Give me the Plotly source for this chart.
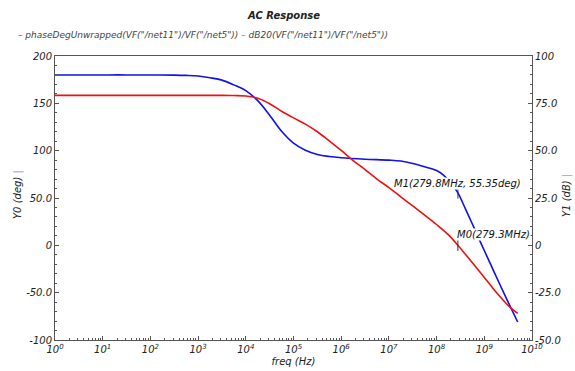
import numpy as np
import plotly.graph_objects as go

# ---- data (frequencies as log10(Hz)) ----
logf_phase = [0, 0.5, 1, 1.5, 2, 2.5, 2.75, 3.0, 3.25, 3.5, 3.75, 4.0, 4.25, 4.5, 4.75,
              5.0, 5.25, 5.5, 5.75, 6.0, 6.5, 7.0, 7.25, 7.5, 7.75, 8.0, 8.15, 8.3,
              8.447, 8.6, 8.75, 8.9, 9.0, 9.15, 9.3, 9.5, 9.7]
phase_deg = [180, 180, 180, 180, 179.9, 179.8, 179.5, 178.8, 177, 174.5, 169.5, 163.5,
             152.8, 137.5, 120.5, 108, 100.5, 96, 93.8, 92.5, 91, 90, 89, 86.5, 83, 79, 74,
             66, 55.35, 39, 22.5, 5.5, -5.5, -22, -38.5, -60, -81]

logf_mag = [0, 1, 2, 3, 3.5, 3.75, 4.0, 4.25, 4.5, 4.75, 5.0, 5.25, 5.5, 5.75, 6.0,
            6.25, 6.5, 6.75, 7.0, 7.25, 7.5, 7.75, 8.0, 8.25, 8.446, 8.6, 8.75, 9.0,
            9.16, 9.3, 9.52, 9.7]
mag_db = [79.2, 79.2, 79.2, 79.2, 79.2, 79.1, 78.9, 77.7, 74.8, 70.8, 67.3, 64.0, 60.0,
          55.2, 50.1, 44.8, 40, 35, 30.5, 25.6, 20.8, 16, 11, 5.5, 0, -4.6, -9.2, -17,
          -22, -26.2, -32.2, -36.0]

marker_m1 = (2.798e8, 55.35)
marker_m0 = (2.793e8, 0.0)

x_tickvals = [10 ** k for k in range(0, 11)]
x_ticktext = ["10<sup>%d</sup>" % k for k in range(0, 11)]
y0_tickvals = [200, 150, 100, 50, 0, -50, -100]
y0_ticktext = ["200", "150", "100", "50.0", "0", "-50.0", "-100"]
y1_tickvals = [100, 75, 50, 25, 0, -25, -50]
y1_ticktext = ["100", "75.0", "50.0", "25.0", "0", "-25.0", "-50.0"]

legend_names = ['phaseDegUnwrapped(VF("/net11")/VF("/net5"))',
                'dB20(VF("/net11")/VF("/net5"))']

freq_phase = [10 ** v for v in logf_phase]
freq_mag = [10 ** v for v in logf_mag]

FONT = "DejaVu Sans"
BLUE = "#1010f0"
RED = "#f01010"
AX = "#555555"
TXT = "#222222"

x_minor = [m * 10 ** k for k in range(0, 10) for m in range(2, 10)]

fig = go.Figure()
fig.add_trace(go.Scatter(x=freq_phase, y=phase_deg, mode="lines",
                         line=dict(color=BLUE, width=1.6, shape="spline", smoothing=1.0),
                         yaxis="y", showlegend=False, hoverinfo="skip"))
fig.add_trace(go.Scatter(x=freq_mag, y=mag_db, mode="lines",
                         line=dict(color=RED, width=1.6, shape="spline", smoothing=1.0),
                         yaxis="y2", showlegend=False, hoverinfo="skip"))
fig.add_trace(go.Scatter(x=[marker_m1[0]], y=[marker_m1[1]], mode="markers",
                         marker=dict(symbol="line-ns", size=8, line=dict(color="#333", width=1)),
                         yaxis="y", showlegend=False, hoverinfo="skip"))
fig.add_trace(go.Scatter(x=[marker_m0[0]], y=[marker_m0[1]], mode="markers",
                         marker=dict(symbol="line-ns", size=8, line=dict(color="#333", width=1)),
                         yaxis="y2", showlegend=False, hoverinfo="skip"))

tickfont = dict(family=FONT, size=10, color=TXT, style="italic")

fig.update_layout(
    width=575, height=371,
    margin=dict(l=55, r=43, t=56, b=31),
    paper_bgcolor="white", plot_bgcolor="white",
    showlegend=False,
    xaxis=dict(type="log", range=[0, 10], tickmode="array", tickvals=x_tickvals,
               ticktext=x_ticktext, tickfont=tickfont, showgrid=False, zeroline=False,
               showline=True, linecolor=AX, linewidth=1, mirror=True,
               ticks="inside", ticklen=4, tickcolor=AX,
               minor=dict(tickmode="array", tickvals=x_minor, ticks="inside",
                          ticklen=2, tickcolor=AX, showgrid=False),
               title=dict(text="freq (Hz)", font=dict(family=FONT, size=10, color=TXT, style="italic"),
                          standoff=3),
               automargin=False),
    yaxis=dict(range=[-100, 200], tickmode="array", tickvals=y0_tickvals,
               ticktext=y0_ticktext, tickfont=tickfont, showgrid=False, zeroline=False,
               showline=True, linecolor=AX, linewidth=1,
               ticks="inside", ticklen=4, tickcolor=AX,
               minor=dict(dtick=10, ticks="inside", ticklen=2, tickcolor=AX, showgrid=False),
               automargin=False),
    yaxis2=dict(range=[-50, 100], overlaying="y", side="right", tickmode="array",
                tickvals=y1_tickvals, ticktext=y1_ticktext, tickfont=tickfont,
                showgrid=False, zeroline=False, showline=True, linecolor=AX, linewidth=1,
                ticks="inside", ticklen=4, tickcolor=AX,
                minor=dict(dtick=5, ticks="inside", ticklen=2, tickcolor=AX, showgrid=False),
                automargin=False),
)

ann_font = dict(family=FONT, size=10, color=TXT, style="italic")
# title
fig.add_annotation(text="AC Response", xref="paper", yref="paper", x=0.48, y=1 + (56 - 15) / 284,
                   xanchor="center", yanchor="middle", showarrow=False,
                   font=dict(family=FONT, size=10, color=TXT, style="italic", weight="bold"))
# legend
fig.add_annotation(
    text='<span style="color:%s">–</span> %s <span style="color:%s">–</span> %s'
         % (BLUE, legend_names[0], RED, legend_names[1]),
    xref="paper", yref="paper", x=(16 - 55) / 477, y=1 + (56 - 35) / 284,
    xanchor="left", yanchor="middle", showarrow=False,
    font=dict(family=FONT, size=9, color="#444444", style="italic"))
# axis titles
fig.add_annotation(text='Y0 (deg) <span style="color:#8080ff">|</span>', xref="paper", yref="paper",
                   x=(18 - 55) / 477, y=(340 - 195) / 284, textangle=-90,
                   xanchor="center", yanchor="middle", showarrow=False, font=ann_font)
fig.add_annotation(text='Y1 (dB) <span style="color:#ff8080">|</span>', xref="paper", yref="paper",
                   x=(567 - 55) / 477, y=(340 - 196) / 284, textangle=-90,
                   xanchor="center", yanchor="middle", showarrow=False, font=ann_font)
# marker labels
fig.add_annotation(text="M1(279.8MHz, 55.35deg)", x=np.log10(marker_m1[0]), y=65.5, xref="x", yref="y",
                   xanchor="center", yanchor="middle", showarrow=False, bgcolor="white",
                   font=dict(family=FONT, size=10, color="#111111", style="italic"), borderpad=0)
fig.add_annotation(text="M0(279.3MHz)", x=np.log10(marker_m0[0]) - 0.03, y=5.9, xref="x", yref="y2",
                   xanchor="left", yanchor="middle", showarrow=False, bgcolor="white",
                   font=dict(family=FONT, size=10, color="#111111", style="italic"), borderpad=0)

fig.write_html("out.html", config={"displayModeBar": False},
               post_script="document.body.style.margin='0';document.body.style.overflow='hidden';")
